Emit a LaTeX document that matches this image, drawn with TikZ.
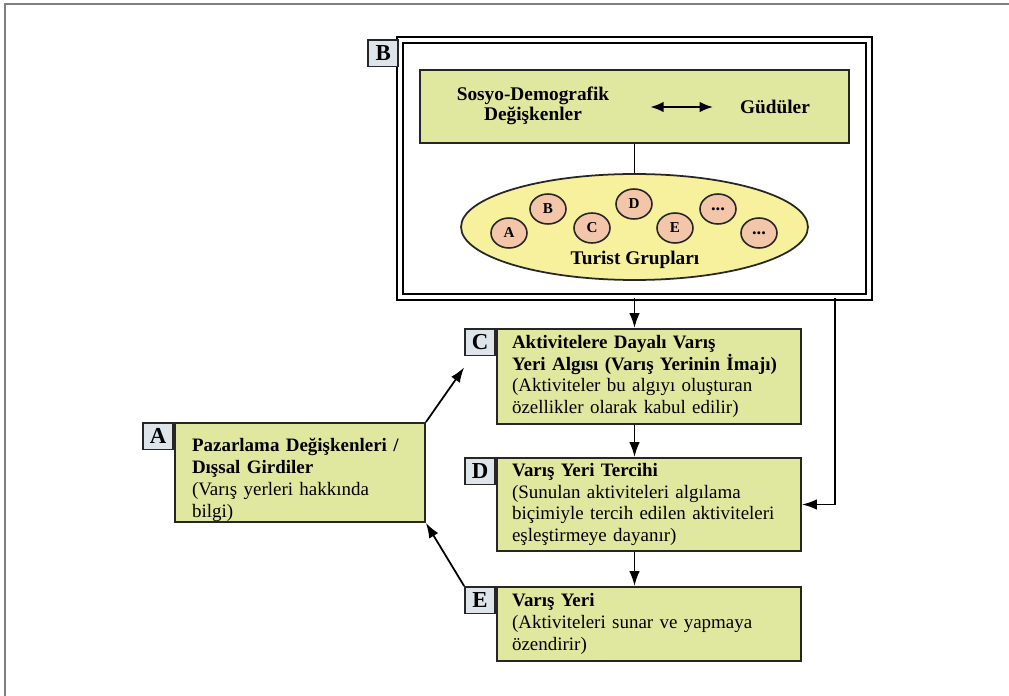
\documentclass[tikz,border=0pt]{standalone}
\usepackage{fontspec}
\setmainfont{Liberation Serif}
\usetikzlibrary{arrows.meta,shapes.geometric}
\definecolor{boxgreen}{RGB}{224,232,160}
\definecolor{ovalyellow}{RGB}{247,241,158}
\definecolor{grouppeach}{RGB}{243,198,170}
\definecolor{taggray}{RGB}{221,229,235}
\newcommand{\grpdots}{\fontsize{10.5}{10}\selectfont...}

\begin{document}
\begin{tikzpicture}[x=0.02cm,y=-0.02cm,
	box/.style={draw=black!85,line width=1.1pt,fill=boxgreen,align=left,inner ysep=0pt,font=\fontsize{10.8}{12.4}\selectfont},
	tag/.style={draw=black!85,line width=1.1pt,fill=taggray,anchor=north east,minimum width=0.6cm,minimum height=0.53cm,inner sep=0pt,font=\fontsize{13}{13}\selectfont\bfseries},
	grp/.style={ellipse,draw=black!85,line width=0.9pt,fill=grouppeach,minimum width=0.72cm,minimum height=0.6cm,inner sep=0pt,font=\fontsize{8.6}{9}\selectfont\bfseries},
	arr/.style={-{Latex[length=8.5pt,width=6pt]},line width=1pt}]
	\useasboundingbox (0,0) rectangle (1009,696);
	\draw[gray,line width=1.3pt] (5,696)--(5,4)--(1009,4);
	\node[draw=black,double,double distance=2.2pt,line width=1.1pt,minimum width=9.38cm,minimum height=5.14cm] (groupsframe) at (634.5,168.5) {};
	\node[tag] (tagB) at (groupsframe.north west) {B};
	\node[box,minimum width=8.58cm,minimum height=1.46cm] (profile) at (634.5,106.5) {};
	\node[align=center,font=\fontsize{11}{11.6}\selectfont\bfseries] (socio) at (533,106) {Sosyo-Demografik\\Değişkenler};
	\node[font=\fontsize{11}{11.6}\selectfont\bfseries] (motives) at (775,107) {Güdüler};
	\draw[{Latex[length=7.5pt,width=6pt]}-{Latex[length=7.5pt,width=6pt]},line width=1pt,shorten <=0.7cm,shorten >=0.42cm] (socio.east|-motives) -- (motives.west);
	\node[ellipse,draw=black!85,line width=1pt,fill=ovalyellow,minimum width=6.94cm,minimum height=2.12cm] (touristgroups) at (634.5,227) {};
	\draw[line width=1pt] (profile.south) -- (touristgroups.north);
	\foreach \name/\x/\y/\txt in {grpA/509/233/A,grpB/548/209/B,grpC/592/228/C,grpD/634/204/D,grpE/675/228/E,grpF/718/209/\grpdots,grpG/759/233/\grpdots}
		\node[grp] (\name) at (\x,\y) {\txt};
	\node[font=\fontsize{11}{11.6}\selectfont\bfseries] (touristlabel) at (635,260) {Turist Grupları};
	\node[box,text width=5.48cm,inner xsep=0.3cm,minimum height=1.9cm] (imagebox) at (649,376.5) {\textbf{Aktivitelere Dayalı Varış}\\\textbf{Yeri Algısı (Varış Yerinin İmajı)}\\(Aktiviteler bu algıyı oluşturan\\özellikler olarak kabul edilir)};
	\node[tag] (tagC) at (imagebox.north west) {C};
	\node[box,text width=5.48cm,inner xsep=0.3cm,minimum height=1.86cm] (choicebox) at (649,504.5) {\textbf{Varış Yeri Tercihi}\\(Sunulan aktiviteleri algılama\\biçimiyle tercih edilen aktiviteleri\\eşleştirmeye dayanır)};
	\node[tag] (tagD) at (choicebox.north west) {D};
	\node[box,text width=5.48cm,inner xsep=0.3cm,minimum height=1.48cm] (destbox) at (649,624) {\textbf{Varış Yeri}\\(Aktiviteleri sunar ve yapmaya\\özendirir)};
	\node[tag] (tagE) at (destbox.north west) {E};
	\node[box,text width=4.32cm,inner xsep=0.34cm,minimum height=1.98cm] (marketbox) at (300,472.5) {\rule{0pt}{16pt}\textbf{Pazarlama Değişkenleri /}\\\textbf{Dışsal Girdiler}\\(Varış yerleri hakkında\\bilgi)};
	\node[tag] (tagA) at (marketbox.north west) {A};
	\draw[arr] (groupsframe.south) -- (groupsframe.south|-imagebox.north);
	\draw[arr] ([xshift=-0.29cm]imagebox.south) -- ([xshift=-0.29cm]choicebox.north);
	\draw[arr] ([xshift=-0.29cm]choicebox.south) -- ([xshift=-0.29cm]destbox.north);
	\draw[arr] ([xshift=4.01cm]groupsframe.south) |- (choicebox.east);
	\draw[arr] (marketbox.north east) -- ([yshift=-0.22cm]tagC.south west);
	\draw[arr] (tagE.north west) -- (marketbox.south east);
\end{tikzpicture}
\end{document}
